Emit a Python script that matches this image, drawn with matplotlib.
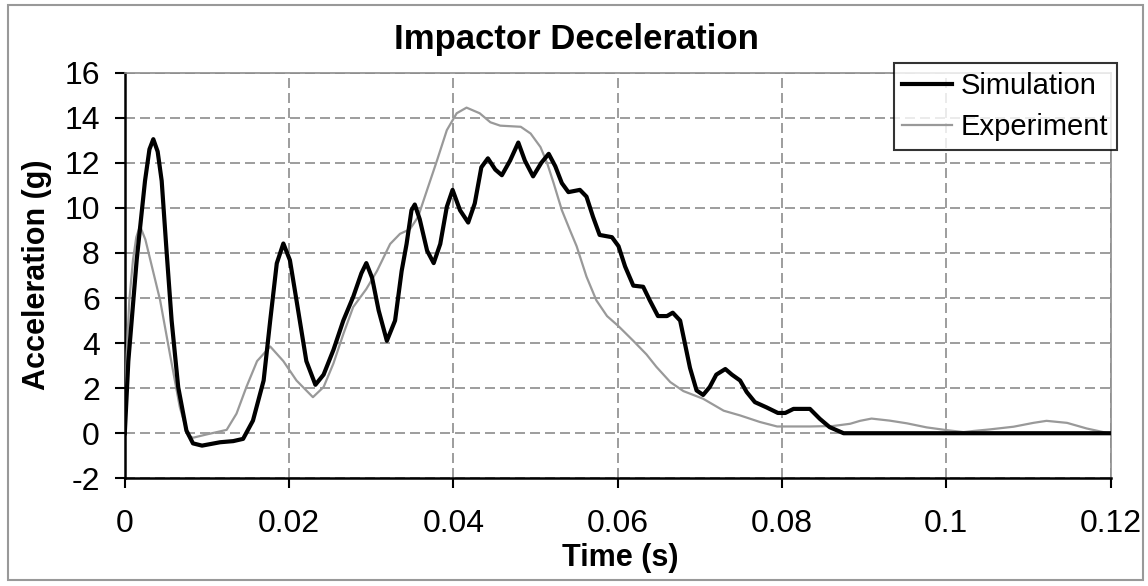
import matplotlib
matplotlib.use("Agg")
import matplotlib.pyplot as plt
from matplotlib.patches import Rectangle

plt.rcParams['font.family'] = ['Liberation Sans', 'DejaVu Sans']
plt.rcParams['axes.unicode_minus'] = False

# Simulation (black)
sim_t = [0.0, 0.00043, 0.00145, 0.00246, 0.003, 0.00347, 0.004, 0.00449, 0.0051, 0.0057, 0.0065, 0.0075,
         0.0083, 0.0094, 0.0116, 0.0132, 0.0144, 0.0156, 0.0169, 0.0177, 0.0185, 0.0193,
         0.0201, 0.0209, 0.0221, 0.0232, 0.0242, 0.0254, 0.0266, 0.0278, 0.0288, 0.0294,
         0.0301, 0.0309, 0.0319, 0.0329, 0.0337, 0.0343, 0.0349, 0.0353, 0.0359, 0.0368,
         0.0376, 0.0384, 0.0392, 0.0399, 0.0408, 0.0418, 0.0426, 0.0434, 0.0442, 0.0451,
         0.0459, 0.0469, 0.0479, 0.0487, 0.0497, 0.0507, 0.0516, 0.0524, 0.0532, 0.054,
         0.0554, 0.0562, 0.057, 0.0578, 0.0593, 0.0601, 0.0609, 0.0619, 0.0631, 0.0639,
         0.0649, 0.066, 0.0667, 0.0676, 0.0682, 0.0688, 0.0696, 0.0704, 0.0712, 0.072,
         0.0731, 0.0739, 0.0749, 0.0757, 0.0767, 0.0781, 0.0795, 0.0804, 0.0814, 0.0834,
         0.0846, 0.0858, 0.0875, 0.09, 0.1, 0.11, 0.12]
sim_a = [0.0, 3.2, 7.7, 11.2, 12.6, 13.05, 12.5, 11.2, 8.0, 5.0, 2.05, 0.12,
         -0.45, -0.55, -0.4, -0.35, -0.25, 0.56, 2.34, 5.0, 7.54, 8.42,
         7.68, 5.9, 3.2, 2.15, 2.6, 3.7, 5.0, 6.05, 7.1, 7.55,
         6.9, 5.45, 4.1, 5.0, 7.2, 8.4, 9.9, 10.15, 9.5, 8.1,
         7.55, 8.4, 10.05, 10.8, 9.9, 9.35, 10.2, 11.8, 12.2, 11.7,
         11.45, 12.1, 12.9, 12.1, 11.4, 12.0, 12.4, 11.85, 11.1, 10.7,
         10.8, 10.5, 9.6, 8.8, 8.7, 8.3, 7.4, 6.55, 6.5, 5.9,
         5.2, 5.2, 5.35, 5.0, 3.95, 2.9, 1.9, 1.7, 2.05, 2.6,
         2.85, 2.6, 2.34, 1.83, 1.38, 1.15, 0.9, 0.9, 1.08, 1.08,
         0.64, 0.27, 0.0, 0.0, 0.0, 0.0, 0.0]

# Experiment (gray)
exp_t = [0.0, 0.00023, 0.00055, 0.001, 0.0014, 0.00185, 0.0025, 0.0031, 0.0043, 0.0055, 0.0067, 0.0077,
         0.0083, 0.01, 0.0124, 0.0136, 0.0148, 0.0161, 0.0177, 0.0193, 0.0209, 0.0229,
         0.0242, 0.0254, 0.0266, 0.0278, 0.0294, 0.0307, 0.0323, 0.0335, 0.0347, 0.0357,
         0.0368, 0.038, 0.0392, 0.0404, 0.0416, 0.0432, 0.0445, 0.0457, 0.0482, 0.0494,
         0.0506, 0.0514, 0.0522, 0.0532, 0.0542, 0.055, 0.0562, 0.0574, 0.0587, 0.0601,
         0.0619, 0.0635, 0.0647, 0.0664, 0.068, 0.0704, 0.0729, 0.0749, 0.0773, 0.0794,
         0.0814, 0.0834, 0.0862, 0.0883, 0.0895, 0.0909, 0.0931, 0.0952, 0.0976, 0.1,
         0.1021, 0.1033, 0.1053, 0.1082, 0.1106, 0.1122, 0.1147, 0.1171, 0.1195, 0.12]
exp_a = [0.3, 3.5, 5.9, 7.7, 8.7, 9.2, 8.6, 7.7, 5.9, 3.5, 1.15, -0.1,
         -0.2, -0.05, 0.15, 0.87, 2.05, 3.2, 3.85, 3.2, 2.34, 1.6,
         2.05, 3.1, 4.4, 5.6, 6.4, 7.2, 8.4, 8.85, 9.05, 9.6,
         10.8, 12.1, 13.45, 14.2, 14.45, 14.2, 13.8, 13.65, 13.6, 13.3,
         12.7, 12.0, 11.1, 9.9, 9.0, 8.3, 6.95, 5.9, 5.2, 4.75,
         4.1, 3.5, 2.95, 2.27, 1.87, 1.53, 1.0, 0.79, 0.5, 0.3,
         0.3, 0.3, 0.32, 0.42, 0.55, 0.65, 0.56, 0.44, 0.26, 0.14,
         0.05, 0.1, 0.17, 0.29, 0.46, 0.55, 0.46, 0.21, 0.02, 0.0]

x_ticks = [0, 0.02, 0.04, 0.06, 0.08, 0.1, 0.12]
x_labels = ['0', '0.02', '0.04', '0.06', '0.08', '0.1', '0.12']
y_ticks = list(range(-2, 17, 2))

W, H = 1148, 586
fig = plt.figure(figsize=(W / 100, H / 100), dpi=100)
ax = fig.add_axes([124.8 / W, 1 - 478.3 / H, 985.8 / W, 405.6 / H])

ax.plot(exp_t, exp_a, color='#999999', lw=1.6, label='Experiment', zorder=3)
ax.plot(sim_t, sim_a, color='black', lw=3.0, label='Simulation', zorder=4)

ax.set_xlim(0, 0.12)
ax.set_ylim(-2, 16)
ax.set_xticks(x_ticks)
ax.set_xticklabels(x_labels)
ax.set_yticks(y_ticks)
ax.tick_params(axis='both', labelsize=23, length=7, width=1.5, direction='out')
ax.tick_params(axis='x', pad=15)
ax.tick_params(axis='y', pad=11)
ax.grid(True, color='#8c8c8c', linestyle=(0, (6, 3)), linewidth=1.2)
for s in ['top', 'right']:
    ax.spines[s].set_color('#8c8c8c')
    ax.spines[s].set_linewidth(1.2)
for s in ['left', 'bottom']:
    ax.spines[s].set_color('black')
    ax.spines[s].set_linewidth(1.8)

handles, labels = ax.get_legend_handles_labels()
leg = ax.legend(handles[::-1], labels[::-1], loc='upper right',
                bbox_to_anchor=(1.0065, 1.024), fontsize=21, frameon=True,
                fancybox=False, edgecolor='black', handlelength=1.7,
                handletextpad=0.3, borderpad=0.3, labelspacing=0.45,
                borderaxespad=0)
leg.get_frame().set_linewidth(1.5)
leg.set_zorder(10)

fig.text(576 / W, 1 - 40 / H, 'Impactor Deceleration', ha='center', va='center',
         fontsize=25, fontweight='bold')
fig.text(620 / W, 1 - 558 / H, 'Time (s)', ha='center', va='center',
         fontsize=22, fontweight='bold')
fig.text(37 / W, 1 - 275 / H, 'Acceleration (g)', ha='center', va='center',
         rotation=90, fontsize=22, fontweight='bold')

fig.patches.append(Rectangle((8 / W, 1 - 580 / H), 1135 / W, 575 / H,
                             transform=fig.transFigure, fill=False,
                             edgecolor='#999999', linewidth=1.5))

fig.savefig('out.png', dpi=100)
